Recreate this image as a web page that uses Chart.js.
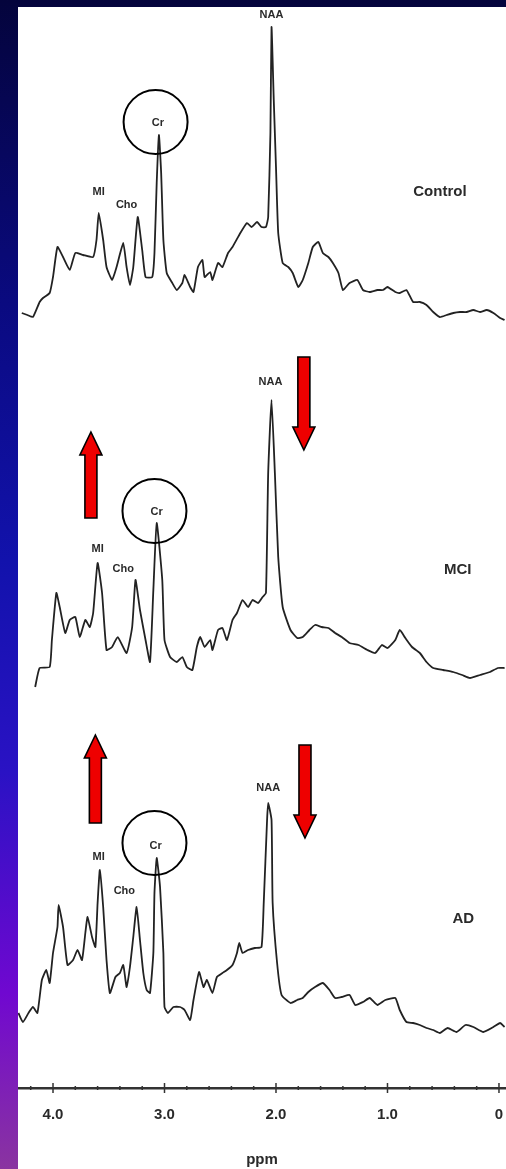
<!DOCTYPE html>
<html>
<head>
<meta charset="utf-8">
<script src="https://cdn.jsdelivr.net/npm/chart.js@4"></script>
<style>
  body {
    margin: 0;
    width: 506px;
    height: 1169px;
    overflow: hidden;
    background: linear-gradient(to bottom, #04043c 0%, #0a0a80 26%, #1212ac 48%, #2a12c4 66%, #7008d0 85%, #8a34a0 100%);
  }
  #panel {
    position: absolute;
    left: 18px;
    top: 7px;
    width: 488px;
    height: 1162px;
    background: #fff;
  }
</style>
</head>
<body>
<div id="panel"><canvas id="mrs" width="488" height="1162"></canvas></div>
<script>
// ppm positions and intensities
const ppmControl = [4.28, 4.23, 4.18, 4.12, 4.09, 4.03, 4.00, 3.96, 3.91, 3.85, 3.80, 3.73, 3.64, 3.61, 3.59, 3.55, 3.52, 3.47, 3.43, 3.37,
  3.34, 3.31, 3.28, 3.24, 3.20, 3.17, 3.11, 3.09, 3.07, 3.05, 3.03, 3.01, 2.98, 2.93, 2.89, 2.84, 2.82, 2.77, 2.74, 2.70,
  2.66, 2.64, 2.59, 2.57, 2.52, 2.48, 2.43, 2.39, 2.32, 2.26, 2.22, 2.17, 2.13, 2.09, 2.07, 2.05, 2.04, 2.02, 2.00, 1.98,
  1.94, 1.89, 1.85, 1.80, 1.76, 1.71, 1.67, 1.62, 1.58, 1.53, 1.49, 1.44, 1.40, 1.34, 1.27, 1.22, 1.16, 1.09, 1.04, 1.00,
  0.93, 0.89, 0.83, 0.77, 0.71, 0.65, 0.59, 0.53, 0.47, 0.41, 0.35, 0.29, 0.23, 0.17, 0.11, 0.05, -0.01, -0.05];
const intControl = [15, 13, 11, 26, 30, 35, 51, 81, 71, 58, 75, 73, 71, 88, 115, 88, 61, 48, 61, 85,
  61, 43, 61, 111, 78, 51, 51, 75, 145, 193, 155, 88, 55, 45, 38, 45, 53, 41, 36, 61,
  68, 51, 56, 48, 65, 61, 75, 81, 95, 105, 101, 106, 101, 101, 111, 195, 301, 228, 161, 95,
  65, 61, 55, 41, 48, 65, 81, 86, 75, 71, 65, 55, 38, 45, 48, 38, 36, 38, 38, 41,
  36, 35, 38, 26, 26, 23, 16, 11, 13, 15, 16, 16, 18, 16, 18, 15, 10, 8];

const ppmMCI = [4.16, 4.12, 4.03, 4.01, 3.97, 3.94, 3.89, 3.85, 3.80, 3.76, 3.71, 3.67, 3.64, 3.60, 3.56, 3.52, 3.47, 3.42, 3.34, 3.29,
  3.26, 3.22, 3.17, 3.13, 3.10, 3.07, 3.02, 3.00, 2.95, 2.89, 2.84, 2.80, 2.75, 2.71, 2.68, 2.64, 2.59, 2.57, 2.52, 2.48,
  2.44, 2.39, 2.35, 2.30, 2.25, 2.21, 2.16, 2.12, 2.09, 2.07, 2.04, 2.01, 1.98, 1.94, 1.87, 1.81, 1.76, 1.70, 1.65, 1.59,
  1.53, 1.47, 1.41, 1.34, 1.26, 1.18, 1.11, 1.05, 1.00, 0.93, 0.89, 0.84, 0.78, 0.71, 0.65, 0.59, 0.50, 0.41, 0.33, 0.26,
  0.17, 0.08, 0.01, -0.05];
const intMCI = [1, 20, 21, 48, 95, 81, 55, 68, 71, 51, 68, 61, 75, 125, 95, 38, 41, 51, 35, 61,
  108, 78, 48, 26, 98, 165, 108, 48, 31, 26, 31, 21, 18, 41, 51, 41, 48, 38, 58, 60,
  48, 68, 75, 88, 81, 88, 85, 91, 95, 215, 288, 215, 131, 81, 58, 50, 51, 58, 63, 61,
  60, 55, 51, 45, 43, 38, 35, 43, 40, 48, 58, 50, 41, 35, 26, 20, 18, 16, 13, 10,
  13, 16, 20, 20];

const ppmAD = [4.31, 4.27, 4.22, 4.18, 4.14, 4.10, 4.06, 4.03, 4.00, 3.96, 3.95, 3.91, 3.87, 3.82, 3.78, 3.74, 3.71, 3.69, 3.65, 3.62,
  3.60, 3.58, 3.55, 3.52, 3.49, 3.44, 3.40, 3.37, 3.35, 3.34, 3.31, 3.28, 3.25, 3.22, 3.19, 3.16, 3.13, 3.10, 3.09, 3.07,
  3.04, 3.01, 3.00, 2.97, 2.92, 2.86, 2.82, 2.77, 2.74, 2.69, 2.65, 2.62, 2.57, 2.53, 2.48, 2.44, 2.39, 2.35, 2.33, 2.30,
  2.25, 2.19, 2.13, 2.11, 2.08, 2.07, 2.04, 2.03, 1.99, 1.95, 1.87, 1.81, 1.76, 1.71, 1.65, 1.58, 1.52, 1.47, 1.41, 1.34,
  1.29, 1.22, 1.16, 1.09, 1.02, 0.93, 0.89, 0.83, 0.77, 0.71, 0.65, 0.59, 0.53, 0.46, 0.38, 0.30, 0.23, 0.14, 0.05, -0.01, -0.05];
const intAD = [20, 11, 20, 26, 20, 53, 63, 50, 80, 106, 128, 106, 68, 73, 83, 73, 100, 116, 96, 86,
  130, 163, 126, 73, 40, 56, 60, 68, 53, 46, 66, 96, 126, 93, 60, 43, 40, 80, 140, 175,
  146, 80, 26, 20, 26, 26, 23, 13, 33, 61, 46, 53, 40, 56, 60, 63, 68, 80, 90, 80,
  83, 85, 86, 130, 213, 230, 213, 130, 70, 38, 30, 33, 35, 41, 46, 50, 43, 35, 36, 38,
  28, 31, 35, 28, 33, 35, 23, 11, 10, 8, 5, 3, 0, 5, 1, 8, 6, 1, 6, 10, 6];

const groupNames = ['Control', 'MCI', 'AD'];
const tickValues = [0, 1, 2, 3, 4];
const tickLabels = ['0', '1.0', '2.0', '3.0', '4.0'];

// vertical stacking of the three traces
const baseline = [760, 400, 55];

// peak labels: [text, ppm, height above that trace's baseline]
const peakLabels = [
  [['NAA', 2.04, 313], ['Cr', 3.06, 205], ['MI', 3.59, 136], ['Cho', 3.34, 123]],
  [['NAA', 2.05, 306], ['Cr', 3.07, 176], ['MI', 3.60, 139], ['Cho', 3.37, 119]],
  [['NAA', 2.07, 245], ['Cr', 3.08, 187], ['MI', 3.59, 176], ['Cho', 3.36, 142]]
];
const groupLabelPos = [[0.53, 136], [0.37, 118], [0.32, 114]];
const crCircle = [[3.08, 206], [3.09, 177], [3.09, 190]];
// arrows: [ppm, tip, tail]
const arrows = [
  [],
  [[3.66, 256, 170], [1.75, 238, 331]],
  [[3.62, 298, 210], [1.74, 195, 288]]
];

const font = "'Liberation Sans', Arial, sans-serif";

function series(ppm, vals, k) {
  return ppm.map((p, i) => ({ x: p, y: vals[i] + baseline[k] }));
}

const overlay = {
  id: 'overlay',
  afterDraw(chart) {
    const ctx = chart.ctx;
    const xs = chart.scales.x, ys = chart.scales.y;
    const X = v => xs.getPixelForValue(v);
    const Y = (k, v) => ys.getPixelForValue(baseline[k] + v);

    ctx.save();
    // crossing ticks on the ppm axis
    const axisY = chart.chartArea.bottom;
    ctx.strokeStyle = '#333';
    ctx.lineWidth = 1.5;
    for (let i = 0; i <= 21; i++) {
      const v = i * 0.2;
      const px = X(v);
      const len = i % 5 === 0 ? 5 : 2;
      ctx.beginPath();
      ctx.moveTo(px, axisY - len);
      ctx.lineTo(px, axisY + len);
      ctx.stroke();
    }

    ctx.textAlign = 'center';
    ctx.textBaseline = 'middle';
    for (let k = 0; k < 3; k++) {
      ctx.fillStyle = '#2a2a2a';
      ctx.font = 'bold 11px ' + font;
      peakLabels[k].forEach(([t, p, v]) => ctx.fillText(t, X(p), Y(k, v)));

      ctx.font = 'bold 15px ' + font;
      ctx.fillText(groupNames[k], X(groupLabelPos[k][0]), Y(k, groupLabelPos[k][1]));

      ctx.strokeStyle = '#000';
      ctx.lineWidth = 2;
      ctx.beginPath();
      ctx.arc(X(crCircle[k][0]), Y(k, crCircle[k][1]), 32, 0, Math.PI * 2);
      ctx.stroke();

      arrows[k].forEach(([p, tip, tail]) => {
        const cx = X(p), ty = Y(k, tip), by = Y(k, tail);
        const d = by > ty ? 1 : -1;
        const hy = ty + 23 * d;
        ctx.beginPath();
        ctx.moveTo(cx, ty);
        ctx.lineTo(cx + 11, hy);
        ctx.lineTo(cx + 6, hy);
        ctx.lineTo(cx + 6, by);
        ctx.lineTo(cx - 6, by);
        ctx.lineTo(cx - 6, hy);
        ctx.lineTo(cx - 11, hy);
        ctx.closePath();
        ctx.fillStyle = '#ee0000';
        ctx.fill();
        ctx.lineWidth = 1.6;
        ctx.strokeStyle = '#000';
        ctx.stroke();
      });
    }
    ctx.restore();
  }
};

const traceStyle = {
  borderColor: '#222',
  borderWidth: 1.8,
  pointRadius: 0,
  tension: 0.15,
  fill: false,
  borderJoinStyle: 'round'
};

new Chart(document.getElementById('mrs'), {
  type: 'line',
  data: {
    datasets: [
      Object.assign({ label: groupNames[0], data: series(ppmControl, intControl, 0) }, traceStyle),
      Object.assign({ label: groupNames[1], data: series(ppmMCI, intMCI, 1) }, traceStyle),
      Object.assign({ label: groupNames[2], data: series(ppmAD, intAD, 2) }, traceStyle)
    ]
  },
  options: {
    responsive: false,
    animation: false,
    layout: { padding: 0 },
    plugins: { legend: { display: false }, tooltip: { enabled: false } },
    scales: {
      x: {
        type: 'linear',
        reverse: true,
        min: -0.063,
        max: 4.314,
        afterBuildTicks: axis => { axis.ticks = tickValues.map(v => ({ value: v })); },
        ticks: {
          padding: 18,
          color: '#2a2a2a',
          font: { family: font, size: 15, weight: 'bold' },
          maxRotation: 0,
          callback: v => tickLabels[tickValues.indexOf(v)]
        },
        grid: { drawOnChartArea: false, drawTicks: false },
        border: { display: true, color: '#333', width: 2.5 },
        title: {
          display: true,
          text: 'ppm',
          color: '#2a2a2a',
          font: { family: font, size: 15, weight: 'bold' },
          padding: { top: 9, bottom: 0 }
        }
      },
      y: { display: false, min: 0, max: 1081 }
    }
  },
  plugins: [overlay]
});
</script>
</body>
</html>
